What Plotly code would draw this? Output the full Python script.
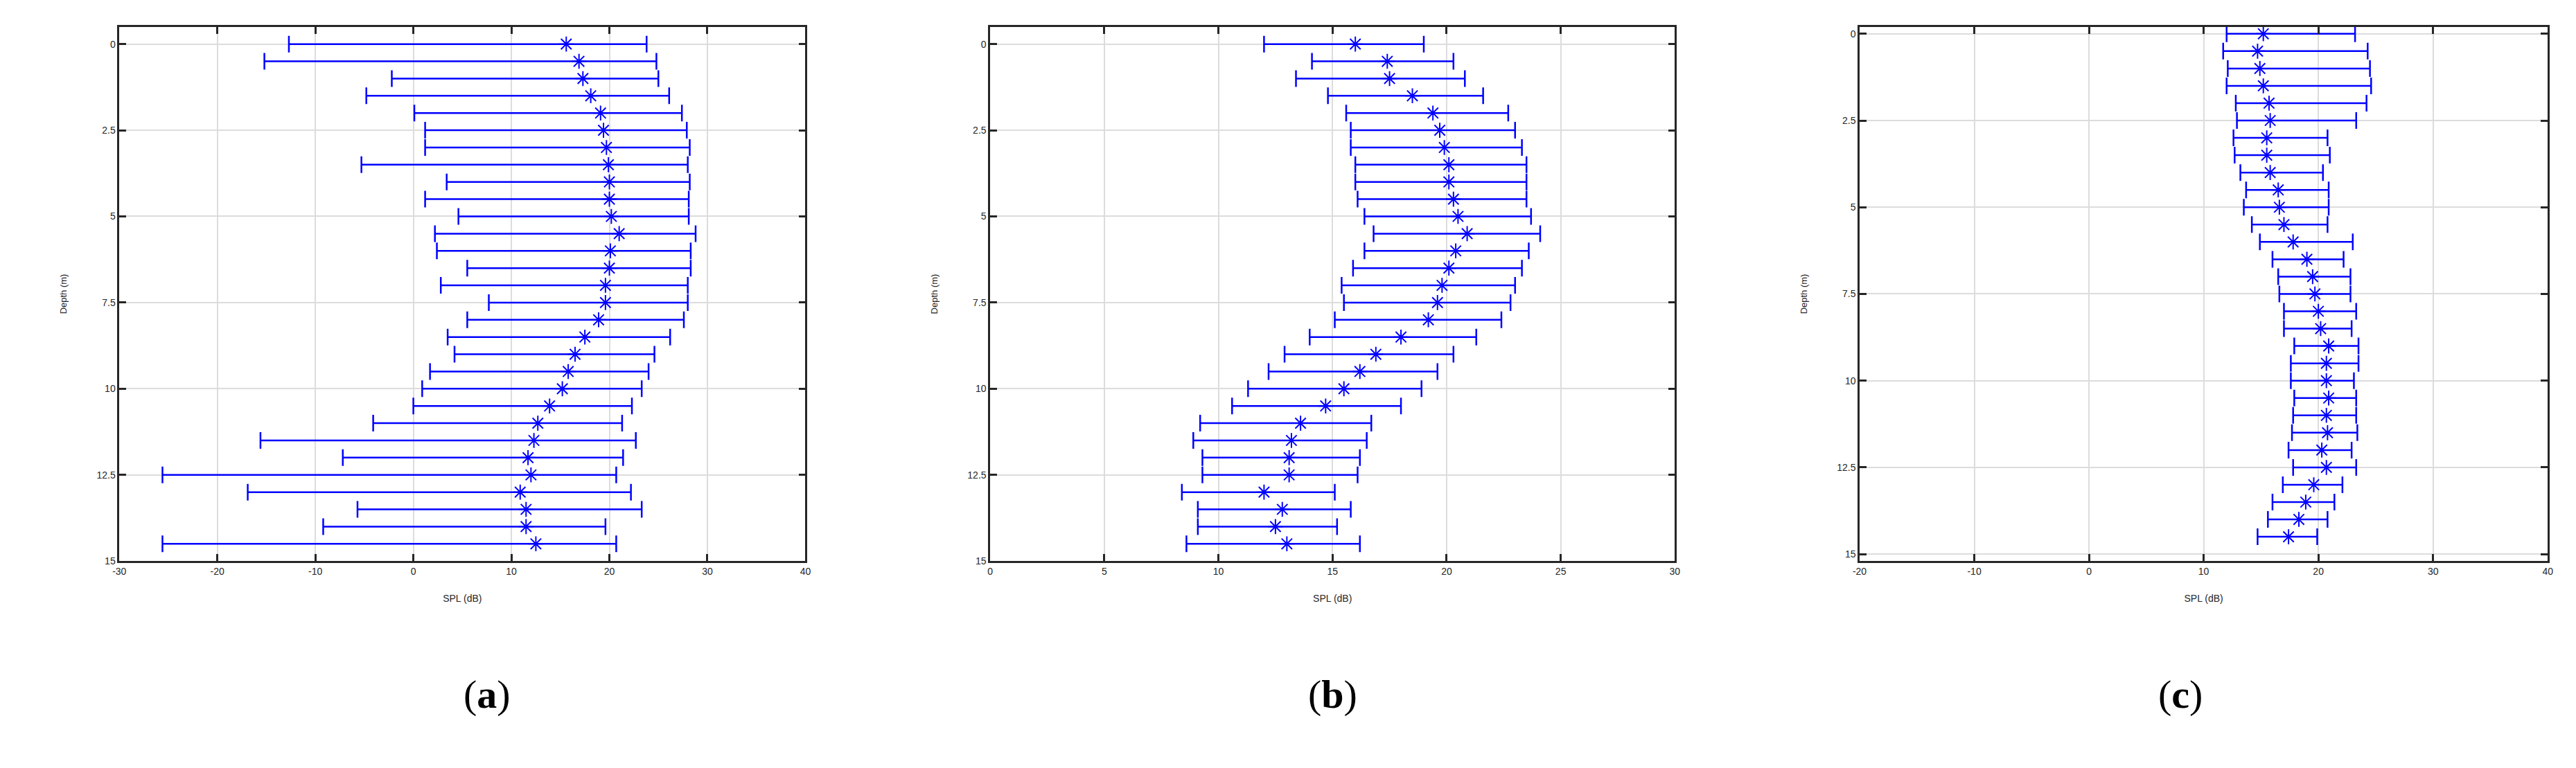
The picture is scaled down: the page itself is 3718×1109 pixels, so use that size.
import plotly.graph_objects as go

depth = [i * 0.5 for i in range(30)]

a_mean = [15.6, 16.9, 17.3, 18.1, 19.1, 19.4, 19.7, 19.9, 20.0, 20.0, 20.2, 21.0, 20.1, 20.0, 19.6,
          19.6, 18.9, 17.5, 16.5, 15.8, 15.2, 13.9, 12.7, 12.3, 11.7, 12.0, 10.9, 11.5, 11.5, 12.5]
a_low = [-12.7, -15.2, -2.2, -4.8, 0.1, 1.2, 1.2, -5.3, 3.4, 1.2, 4.6, 2.2, 2.4, 5.5, 2.8,
         7.7, 5.5, 3.5, 4.2, 1.7, 0.9, 0.0, -4.1, -15.6, -7.2, -25.6, -16.9, -5.7, -9.2, -25.6]
a_high = [23.8, 24.8, 25.0, 26.1, 27.4, 27.9, 28.2, 28.0, 28.2, 28.1, 28.1, 28.8, 28.3, 28.3, 28.0,
          28.0, 27.6, 26.2, 24.6, 24.0, 23.3, 22.3, 21.3, 22.7, 21.4, 20.7, 22.2, 23.3, 19.6, 20.7]

b_mean = [16.0, 17.4, 17.5, 18.5, 19.4, 19.7, 19.9, 20.1, 20.1, 20.3, 20.5, 20.9, 20.4, 20.1, 19.8,
          19.6, 19.2, 18.0, 16.9, 16.2, 15.5, 14.7, 13.6, 13.2, 13.1, 13.1, 12.0, 12.8, 12.5, 13.0]
b_low = [12.0, 14.1, 13.4, 14.8, 15.6, 15.8, 15.8, 16.0, 16.0, 16.1, 16.4, 16.8, 16.4, 15.9, 15.4,
         15.5, 15.1, 14.0, 12.9, 12.2, 11.3, 10.6, 9.2, 8.9, 9.3, 9.3, 8.4, 9.1, 9.1, 8.6]
b_high = [19.0, 20.3, 20.8, 21.6, 22.7, 23.0, 23.3, 23.5, 23.5, 23.5, 23.7, 24.1, 23.6, 23.3, 23.0,
          22.8, 22.4, 21.3, 20.3, 19.6, 18.9, 18.0, 16.7, 16.5, 16.2, 16.1, 15.1, 15.8, 15.2, 16.2]

c_mean = [15.2, 14.7, 14.9, 15.2, 15.7, 15.8, 15.5, 15.5, 15.8, 16.5, 16.6, 17.0, 17.8, 19.0, 19.5,
          19.7, 20.0, 20.2, 20.9, 20.7, 20.7, 20.9, 20.7, 20.8, 20.3, 20.7, 19.6, 18.9, 18.3, 17.4]
c_low = [12.0, 11.7, 12.1, 12.0, 12.8, 12.9, 12.6, 12.7, 13.2, 13.7, 13.5, 14.2, 14.9, 16.0, 16.5,
         16.6, 17.0, 17.0, 17.9, 17.6, 17.6, 17.9, 17.8, 17.7, 17.4, 17.8, 16.9, 16.0, 15.6, 14.7]
c_high = [23.2, 24.3, 24.5, 24.6, 24.2, 23.3, 20.8, 21.0, 20.4, 20.9, 20.9, 20.8, 23.0, 22.2, 22.8,
          22.8, 23.3, 22.9, 23.5, 23.5, 23.1, 23.3, 23.3, 23.4, 22.9, 23.3, 22.1, 21.4, 20.8, 19.9]

y_ticks = [0, 2.5, 5, 7.5, 10, 12.5, 15]
y_tick_text = ["0", "2.5", "5", "7.5", "10", "12.5", "15"]
a_xticks = [-30, -20, -10, 0, 10, 20, 30, 40]
b_xticks = [0, 5, 10, 15, 20, 25, 30]
c_xticks = [-20, -10, 0, 10, 20, 30, 40]
panels = [
    (a_mean, a_low, a_high, [-30, 40], a_xticks, [15, -0.5], "(<b>a</b>)"),
    (b_mean, b_low, b_high, [0, 30], b_xticks, [15, -0.5], "(<b>b</b>)"),
    (c_mean, c_low, c_high, [-20, 40], c_xticks, [15.2, -0.2], "(<b>c</b>)"),
]
x_domains = [[155 / 3718, 1150 / 3718], [1418 / 3718, 2411 / 3718], [2679 / 3718, 3677 / 3718]]
y_domain = [1 - 808 / 1109, 1 - 31 / 1109]

fig = go.Figure()
tickfont = dict(family="Liberation Sans Narrow, Liberation Sans, Arial", size=14, color="#262626")
for i, (m, lo, hi, xr, xt, yr, lab) in enumerate(panels):
    n = "" if i == 0 else str(i + 1)
    fig.add_trace(go.Scatter(
        x=m, y=depth, mode="markers", xaxis="x" + n, yaxis="y" + n,
        marker=dict(symbol="asterisk-open", size=18, color="blue", line=dict(color="blue", width=2)),
        error_x=dict(type="data", symmetric=False,
                     array=[h - v for h, v in zip(hi, m)],
                     arrayminus=[v - l for v, l in zip(m, lo)],
                     color="blue", thickness=2.5, width=12),
        showlegend=False))
    axc = dict(showline=True, mirror="ticks", linecolor="#262626", linewidth=2.5,
               ticks="inside", ticklen=10, tickwidth=2.5, tickcolor="#262626",
               showgrid=True, gridcolor="#dcdcdc", gridwidth=1.5, zeroline=False,
               tickfont=tickfont)
    fig.update_layout(**{
        "xaxis" + n: dict(axc, domain=x_domains[i], range=xr, tickvals=xt,
                          ticktext=[str(v) for v in xt],
                          anchor="y" + n,
                          title=dict(text="SPL (dB)", font=tickfont, standoff=28)),
        "yaxis" + n: dict(axc, domain=y_domain, range=yr, tickvals=y_ticks,
                          ticktext=y_tick_text, anchor="x" + n,
                          title=dict(text="Depth (m)", font=dict(tickfont, size=13), standoff=40)),
    })
    fig.add_annotation(text=lab, x=sum(x_domains[i]) / 2, y=1 - 1036 / 1109,
                       xref="paper", yref="paper", showarrow=False,
                       font=dict(family="Liberation Serif, DejaVu Serif", size=58, color="black"))

fig.update_layout(width=3718, height=1109, margin=dict(l=0, r=0, t=0, b=0),
                  paper_bgcolor="white", plot_bgcolor="white")
fig.write_html("out.html")
